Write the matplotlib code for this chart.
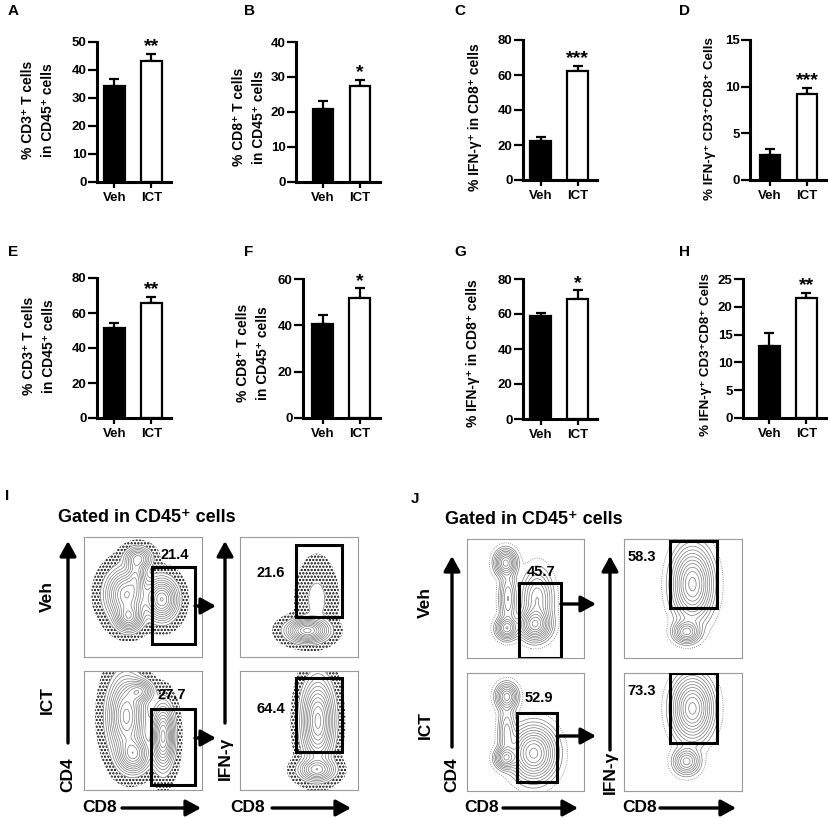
import numpy as np
import matplotlib.pyplot as plt
from matplotlib.patches import Rectangle

plt.rcParams['font.family'] = ['Liberation Sans', 'DejaVu Sans']
plt.rcParams['font.weight'] = 'bold'
plt.rcParams['hatch.linewidth'] = 1.1

W, H = 829, 818

groups = ["Veh", "ICT"]

# bar panels A-H: mean and upper error
a_vals = [34.3, 43.3]
a_err = [2.5, 2.4]
b_vals = [20.8, 27.4]
b_err = [2.2, 1.8]
c_vals = [22.3, 62.3]
c_err = [2.3, 2.8]
d_vals = [2.7, 9.2]
d_err = [0.65, 0.7]
e_vals = [51.4, 65.7]
e_err = [2.7, 3.4]
f_vals = [40.7, 51.9]
f_err = [3.6, 4.0]
g_vals = [58.6, 68.7]
g_err = [1.7, 4.8]
h_vals = [13.0, 21.6]
h_err = [2.2, 0.9]

y_max = [50, 40, 80, 15, 80, 60, 80, 25]
y_step = [10, 10, 20, 5, 20, 20, 20, 5]
stars = ["**", "*", "***", "***", "**", "*", "*", "**"]
y_labels = [
    "% CD3⁺ T cells\nin CD45⁺ cells",
    "% CD8⁺ T cells\nin CD45⁺ cells",
    "% IFN-γ⁺ in CD8⁺ cells",
    "% IFN-γ⁺ CD3⁺CD8⁺ Cells",
    "% CD3⁺ T cells\nin CD45⁺ cells",
    "% CD8⁺ T cells\nin CD45⁺ cells",
    "% IFN-γ⁺ in CD8⁺ cells",
    "% IFN-γ⁺ CD3⁺CD8⁺ Cells",
]
bar_letters = ["A", "B", "C", "D", "E", "F", "G", "H"]

# flow panels: gate percentages
i_cd8_pct = ["21.4", "27.7"]
i_ifn_pct = ["21.6", "64.4"]
j_cd8_pct = ["45.7", "52.9"]
j_ifn_pct = ["58.3", "73.3"]

# cell populations: (cd8, marker, spread x, spread y, weight)
i_veh_cd4 = [(0.46, 0.82, 0.06, 0.05, 0.6), (0.36, 0.52, 0.09, 0.11, 1.0),
             (0.38, 0.33, 0.06, 0.06, 0.8), (0.66, 0.48, 0.07, 0.09, 1.0),
             (0.44, 0.68, 0.04, 0.08, 0.4)]
i_ict_cd4 = [(0.36, 0.62, 0.08, 0.17, 1.0), (0.42, 0.30, 0.07, 0.08, 0.8),
             (0.47, 0.83, 0.06, 0.05, 0.6), (0.67, 0.45, 0.05, 0.14, 1.0)]
i_veh_ifn = [(0.57, 0.22, 0.09, 0.05, 1.0), (0.65, 0.48, 0.08, 0.16, 0.07)]
i_ict_ifn = [(0.66, 0.58, 0.07, 0.18, 1.0), (0.65, 0.17, 0.08, 0.05, 0.6)]
j_veh_cd4 = [(0.33, 0.8, 0.05, 0.06, 0.8), (0.35, 0.5, 0.04, 0.13, 0.4),
             (0.34, 0.25, 0.05, 0.05, 0.7), (0.58, 0.28, 0.07, 0.07, 1.0),
             (0.6, 0.5, 0.07, 0.13, 0.5)]
j_ict_cd4 = [(0.34, 0.8, 0.05, 0.06, 0.6), (0.34, 0.5, 0.04, 0.13, 0.3),
             (0.33, 0.28, 0.05, 0.05, 0.6), (0.57, 0.32, 0.1, 0.12, 1.0)]
j_veh_ifn = [(0.58, 0.62, 0.09, 0.16, 1.0), (0.53, 0.22, 0.06, 0.05, 0.6)]
j_ict_ifn = [(0.58, 0.70, 0.09, 0.14, 1.0), (0.53, 0.25, 0.06, 0.06, 0.5)]

fig = plt.figure(figsize=(W / 100, H / 100), dpi=100)


def px_axes(x0, y0, x1, y1):
    return fig.add_axes([x0 / W, 1 - y1 / H, (x1 - x0) / W, (y1 - y0) / H])


# geometry of bar panels in pixels: spine x, Veh centre, right end, top, zero
bar_geo = [(97, 114.5, 171, 42, 182), (296, 323, 380, 42, 181.5),
           (523, 540.5, 597, 40, 180), (750, 770, 826, 40, 180),
           (97, 114.5, 171, 278, 418), (303, 322.5, 380, 279, 418),
           (523, 540.5, 597, 279, 419), (743, 769.5, 826, 279, 418)]
label_pos = [(38, 110), (249, 117), (475, 117), (710, 119),
             (39, 346), (253, 353), (473, 353), (706, 355)]
label_size = [10, 10, 10, 9.6, 10, 10, 10, 9.6]
letter_pos = [(8, 4), (244, 4), (454, 4), (679, 4),
              (8, 245), (244, 245), (454, 245), (679, 245)]

all_vals = [a_vals, b_vals, c_vals, d_vals, e_vals, f_vals, g_vals, h_vals]
all_err = [a_err, b_err, c_err, d_err, e_err, f_err, g_err, h_err]

for k in range(8):
    sx, vc, rx, top, zero = bar_geo[k]
    sp = 37
    ax = px_axes(sx, top, rx, zero)
    ax.bar([0, 1], all_vals[k], width=0.56, color=["black", "white"],
           edgecolor="black", linewidth=1.6, zorder=2)
    ax.errorbar([0, 1], all_vals[k], yerr=[[0, 0], all_err[k]], fmt="none",
                ecolor="black", elinewidth=1.6, capsize=3.3, capthick=1.6, zorder=1)
    ax.annotate(stars[k], (1, all_vals[k][1] + all_err[k][1]), xytext=(0, -1),
                textcoords="offset points", ha="center", va="bottom", fontsize=14)
    ax.set_xlim((sx - vc) / sp, (rx - vc) / sp)
    ax.set_ylim(0, y_max[k])
    ax.set_yticks(np.arange(0, y_max[k] + 1, y_step[k]))
    ax.set_xticks([0, 1])
    ax.set_xticklabels(groups, fontsize=9.5)
    ax.tick_params(axis="y", length=6.5, width=1.6, labelsize=9.5, pad=1)
    ax.tick_params(axis="x", length=4.5, width=1.6, pad=3)
    for s in ["top", "right"]:
        ax.spines[s].set_visible(False)
    for s in ["left", "bottom"]:
        ax.spines[s].set_linewidth(2.2)
        ax.spines[s].set_capstyle("projecting")
    ax.patch.set_alpha(0)

over = fig.add_axes([0, 0, 1, 1])
over.set_xlim(0, W)
over.set_ylim(H, 0)
over.axis("off")
over.patch.set_alpha(0)
over.set_zorder(10)

for k in range(8):
    over.text(label_pos[k][0], label_pos[k][1], y_labels[k], rotation=90,
              ha="center", va="center", fontsize=label_size[k], linespacing=1.55)
    over.text(letter_pos[k][0], letter_pos[k][1], bar_letters[k], ha="left",
              va="top", fontsize=11)


def density(pops):
    gx, gy = np.meshgrid(np.linspace(0, 1, 240), np.linspace(0, 1, 240))
    z = np.zeros_like(gx)
    for cx, cy, sx, sy, w in pops:
        z += w * np.exp(-0.5 * (((gx - cx) / sx) ** 2 + ((gy - cy) / sy) ** 2))
    return gx, gy, z / z.max()


def flow_box(x0, y0, x1, y1, pops, gate, pct, pct_xy, speckle):
    ax = px_axes(x0, y0, x1, y1)
    gx, gy, z = density(pops)
    if speckle:
        ax.contourf(gx, gy, z, levels=[0.004, 0.045], colors="none",
                    hatches=["....."])
    else:
        ax.contour(gx, gy, z, levels=[0.015], colors="#777777",
                   linewidths=0.6, linestyles=":")
    ax.contour(gx, gy, z, levels=np.linspace(0.22, 0.97, 11) ** 2,
               colors="#7a7a7a", linewidths=0.5)
    gxa, gya, gxb, gyb = gate
    ax.add_patch(Rectangle((gxa, gya), gxb - gxa, gyb - gya, fill=False,
                           edgecolor="black", linewidth=2.2, zorder=5))
    ax.set_xlim(0, 1)
    ax.set_ylim(0, 1)
    ax.set_xticks([])
    ax.set_yticks([])
    for s in ax.spines.values():
        s.set_edgecolor("#9a9a9a")
        s.set_linewidth(0.8)
    over.text(pct_xy[0], pct_xy[1], pct, ha="center", va="center", fontsize=10.5)


def arrow(x0, y0, x1, y1):
    over.annotate("", xy=(x1, y1), xytext=(x0, y0),
                  arrowprops=dict(arrowstyle="-|>,head_length=0.6,head_width=0.33",
                                  lw=2.4, color="black", mutation_scale=15,
                                  shrinkA=0, shrinkB=0))


def gate_frac(bx0, by0, bx1, by1, gx0, gy0, gx1, gy1):
    return ((gx0 - bx0) / (bx1 - bx0), 1 - (gy1 - by0) / (by1 - by0),
            (gx1 - bx0) / (bx1 - bx0), 1 - (gy0 - by0) / (by1 - by0))


# panel I
flow_box(84, 537, 202, 657, i_veh_cd4, gate_frac(84, 537, 202, 657, 152, 567, 195, 644),
         i_cd8_pct[0], (175, 555), True)
flow_box(84, 671, 202, 790, i_ict_cd4, gate_frac(84, 671, 202, 790, 151, 709, 195, 785),
         i_cd8_pct[1], (172, 695), True)
flow_box(240, 537, 358, 657, i_veh_ifn, gate_frac(240, 537, 358, 657, 296, 545, 342, 617),
         i_ifn_pct[0], (271, 573), True)
flow_box(240, 671, 358, 790, i_ict_ifn, gate_frac(240, 671, 358, 790, 296, 678, 342, 752),
         i_ifn_pct[1], (271, 709), True)

# panel J
flow_box(467, 539, 584, 658, j_veh_cd4, gate_frac(467, 539, 584, 658, 519, 583, 561, 658),
         j_cd8_pct[0], (541, 572), False)
flow_box(467, 673, 584, 791, j_ict_cd4, gate_frac(467, 673, 584, 791, 517, 713, 557, 782),
         j_cd8_pct[1], (539, 698), False)
flow_box(624, 539, 742, 658, j_veh_ifn, gate_frac(624, 539, 742, 658, 670, 541, 717, 608),
         j_ifn_pct[0], (642, 557), False)
flow_box(624, 673, 742, 791, j_ict_ifn, gate_frac(624, 673, 742, 791, 670, 673, 717, 743),
         j_ifn_pct[1], (642, 691), False)

# arrows and labels of the flow panels
arrow(68, 743, 68, 541)
arrow(225, 723, 225, 541)
arrow(122, 808, 201, 808)
arrow(272, 808, 351, 808)
arrow(195, 606, 216, 606)
arrow(195, 738, 216, 738)
arrow(452, 747, 452, 556)
arrow(610, 750, 610, 556)
arrow(503, 808, 578, 808)
arrow(660, 808, 736, 808)
arrow(561, 604, 596, 604)
arrow(557, 736, 596, 736)

over.text(5, 489, "I", ha="left", va="top", fontsize=11)
over.text(411, 492, "J", ha="left", va="top", fontsize=11)
over.text(58, 517, "Gated in CD45⁺ cells", ha="left", va="center", fontsize=13)
over.text(445, 520, "Gated in CD45⁺ cells", ha="left", va="center", fontsize=13)
for x, yv, yi in [(47, 597, 700), (425, 603, 725)]:
    over.text(x, yv, "Veh", rotation=90, ha="center", va="center", fontsize=12.5)
    over.text(x, yi, "ICT", rotation=90, ha="center", va="center", fontsize=12.5)
over.text(68, 775, "CD4", rotation=90, ha="center", va="center", fontsize=12.5)
over.text(452, 775, "CD4", rotation=90, ha="center", va="center", fontsize=12.5)
over.text(225, 758, "IFN-γ", rotation=90, ha="center", va="center", fontsize=12.5)
over.text(610, 772, "IFN-γ", rotation=90, ha="center", va="center", fontsize=12.5)
over.text(100, 808, "CD8", ha="center", va="center", fontsize=12.5)
over.text(248, 808, "CD8", ha="center", va="center", fontsize=12.5)
over.text(482, 808, "CD8", ha="center", va="center", fontsize=12.5)
over.text(640, 808, "CD8", ha="center", va="center", fontsize=12.5)

fig.savefig("out.png", dpi=100)
